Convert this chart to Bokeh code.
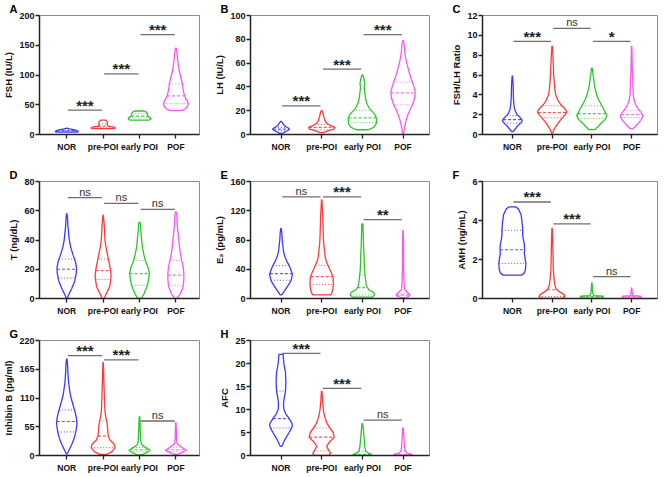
import numpy as np
from bokeh.plotting import figure
from bokeh.layouts import gridplot
from bokeh.models import Range1d, FixedTicker, Label
from bokeh.embed import file_html
from bokeh.resources import INLINE

groups = ["NOR", "pre-POI", "early POI", "POF"]
colors = ["#3a3aff", "#ff3a3a", "#2ec42e", "#ff55f0"]

# ---- violin outlines: (y levels, half-widths in category units) ----
fsh_profiles = [
    ([4, 5, 6.5, 8, 9.5, 10.5], [0.28, 0.32, 0.28, 0.18, 0.08, 0.02]),
    ([10, 11, 12.5, 14, 17, 20, 22, 24], [0.3, 0.34, 0.3, 0.14, 0.11, 0.12, 0.1, 0.07]),
    ([24, 26, 28, 30, 32, 35, 38, 39.5], [0.26, 0.31, 0.3, 0.24, 0.22, 0.22, 0.18, 0.13]),
    ([40, 43, 47, 52, 57, 62, 67, 75, 85, 95, 105, 115, 125, 135, 145],
     [0.15, 0.26, 0.32, 0.34, 0.31, 0.26, 0.23, 0.2, 0.18, 0.14, 0.1, 0.07, 0.05, 0.035, 0.015]),
]
fsh_quart = [(5.5, 6.5, 7.5), (11.5, 14, 18), (28, 31, 35), (52, 65, 85)]
fsh_sig = [(1, 2, 41, "***"), (2, 3, 102, "***"), (3, 4, 168, "***")]
fsh_ticks = [0, 50, 100, 150, 200]

lh_profiles = [
    ([1, 2.5, 4, 5, 6.5, 8, 9.5, 11], [0.04, 0.12, 0.2, 0.2, 0.12, 0.07, 0.04, 0.01]),
    ([1.5, 3, 4.5, 6, 7.5, 9, 11, 13, 15, 17, 18.5, 20],
     [0.04, 0.15, 0.3, 0.32, 0.22, 0.14, 0.09, 0.07, 0.05, 0.04, 0.03, 0.01]),
    ([4, 6, 9, 13, 16, 19, 22, 26, 30, 35, 40, 43, 46, 48, 50],
     [0.15, 0.28, 0.34, 0.35, 0.32, 0.25, 0.17, 0.11, 0.08, 0.06, 0.045, 0.06, 0.04, 0.03, 0.01]),
    ([0.5, 5, 10, 15, 20, 25, 30, 35, 40, 45, 50, 55, 60, 65, 70, 75, 79],
     [0.01, 0.03, 0.06, 0.1, 0.16, 0.23, 0.28, 0.3, 0.27, 0.22, 0.17, 0.13, 0.09, 0.06, 0.04, 0.03, 0.01]),
]
lh_quart = [(3, 4.5, 6), (4, 6, 8.5), (10, 14, 20), (25, 35, 44)]
lh_sig = [(1, 2, 24, "***"), (2, 3, 55, "***"), (3, 4, 84, "***")]
lh_ticks = [0, 20, 40, 60, 80, 100]

ratio_profiles = [
    ([0.3, 0.8, 1.2, 1.4, 1.7, 2.0, 2.5, 3, 3.5, 4, 5, 5.9],
     [0.02, 0.12, 0.22, 0.25, 0.2, 0.12, 0.06, 0.04, 0.03, 0.025, 0.02, 0.005]),
    ([0.1, 0.5, 1, 1.5, 2, 2.3, 2.7, 3, 3.5, 4, 4.5, 5, 6, 7, 8, 8.9],
     [0.01, 0.05, 0.12, 0.22, 0.33, 0.37, 0.3, 0.22, 0.14, 0.09, 0.07, 0.06, 0.04, 0.03, 0.02, 0.005]),
    ([0.5, 1, 1.5, 1.9, 2.3, 3, 3.5, 4, 4.5, 5, 5.5, 6, 6.7],
     [0.08, 0.2, 0.33, 0.38, 0.33, 0.24, 0.17, 0.12, 0.09, 0.06, 0.05, 0.03, 0.01]),
    ([0.6, 1, 1.5, 1.8, 2.2, 2.6, 3, 3.5, 4, 5, 5.5, 6, 7, 8, 8.9],
     [0.04, 0.14, 0.24, 0.29, 0.24, 0.16, 0.1, 0.06, 0.04, 0.03, 0.03, 0.02, 0.015, 0.01, 0.005]),
]
ratio_quart = [(1.15, 1.5, 1.9), (1.7, 2.2, 2.9), (1.6, 2.1, 2.9), (1.7, 2.0, 2.4)]
ratio_sig = [(1, 2, 9.4, "***"), (2, 3, 10.7, "ns"), (3, 4, 9.4, "*")]
ratio_ticks = [0, 2, 4, 6, 8, 10, 12]

t_profiles = [
    ([0, 3, 7, 12, 17, 21, 25, 30, 35, 40, 45, 50, 55, 58],
     [0.01, 0.06, 0.14, 0.22, 0.26, 0.27, 0.24, 0.17, 0.11, 0.07, 0.05, 0.03, 0.02, 0.005]),
    ([0, 3, 8, 13, 16, 20, 25, 30, 35, 40, 45, 50, 57],
     [0.03, 0.08, 0.18, 0.21, 0.22, 0.2, 0.16, 0.12, 0.08, 0.05, 0.04, 0.03, 0.005]),
    ([0, 3, 6, 9, 13, 17, 21, 26, 30, 35, 40, 45, 52],
     [0.05, 0.12, 0.17, 0.22, 0.25, 0.27, 0.24, 0.16, 0.12, 0.08, 0.06, 0.04, 0.02]),
    ([0, 3, 8, 13, 17, 22, 26, 30, 35, 40, 45, 50, 55, 59],
     [0.03, 0.12, 0.2, 0.22, 0.22, 0.2, 0.16, 0.13, 0.1, 0.08, 0.06, 0.04, 0.03, 0.02]),
]
t_quart = [(14, 20, 27), (13, 19, 27), (9, 17, 26), (9, 16, 26)]
t_sig = [(1, 2, 69, "ns"), (2, 3, 65, "ns"), (3, 4, 61, "ns")]
t_ticks = [0, 20, 40, 60, 80]

e2_profiles = [
    ([5, 10, 15, 20, 25, 33, 40, 45, 50, 55, 60, 65, 70, 75, 80, 90, 96],
     [0.02, 0.08, 0.14, 0.2, 0.25, 0.28, 0.24, 0.2, 0.15, 0.11, 0.08, 0.06, 0.05, 0.04, 0.03, 0.02, 0.005]),
    ([5, 8, 12, 20, 28, 35, 42, 50, 55, 60, 65, 75, 85, 95, 105, 115, 125, 135],
     [0.22, 0.25, 0.27, 0.29, 0.28, 0.24, 0.18, 0.12, 0.09, 0.08, 0.07, 0.05, 0.04, 0.035, 0.03, 0.025, 0.015, 0.005]),
    ([2, 5, 8, 12, 16, 20, 30, 40, 50, 60, 70, 80, 90, 102],
     [0.25, 0.3, 0.28, 0.16, 0.11, 0.09, 0.07, 0.05, 0.045, 0.04, 0.03, 0.025, 0.02, 0.015]),
    ([1, 3, 5, 8, 12, 20, 40, 60, 80, 93],
     [0.05, 0.14, 0.17, 0.12, 0.04, 0.025, 0.015, 0.012, 0.01, 0.005]),
]
e2_quart = [(25, 34, 45), (19, 30, 45), (5, 15, 32), (4, 5, 7)]
e2_sig = [(1, 2, 139, "ns"), (2, 3, 139, "***"), (3, 4, 108, "**")]
e2_ticks = [0, 40, 80, 120, 160]

amh_profiles = [
    ([1.2, 1.3, 1.5, 1.8, 2.1, 2.3, 2.5, 2.8, 3.1, 3.3, 3.6, 4.0, 4.3, 4.6, 4.7],
     [0.23, 0.3, 0.33, 0.34, 0.32, 0.3, 0.31, 0.3, 0.27, 0.26, 0.26, 0.24, 0.22, 0.15, 0.08]),
    ([0, 0.1, 0.2, 0.35, 0.5, 0.7, 1.0, 1.5, 2, 2.5, 3, 3.6],
     [0.25, 0.33, 0.3, 0.18, 0.1, 0.07, 0.05, 0.03, 0.025, 0.02, 0.015, 0.005]),
    ([0, 0.05, 0.12, 0.15, 0.3, 0.8], [0.2, 0.28, 0.28, 0.05, 0.02, 0.005]),
    ([0, 0.05, 0.12, 0.15, 0.3, 0.55], [0.2, 0.24, 0.22, 0.03, 0.015, 0.005]),
]
amh_quart = [(1.8, 2.5, 3.5), (0.1, 0.45, 1.05), (0.05, 0.1, 0.12), (0.05, 0.1, 0.12)]
amh_sig = [(1, 2, 4.95, "***"), (2, 3, 3.83, "***"), (3, 4, 1.12, "ns")]
amh_ticks = [0, 2, 4, 6]

inhb_profiles = [
    ([3, 10, 20, 30, 40, 50, 60, 70, 80, 90, 100, 110, 120, 130, 140, 150, 160, 170, 180, 185],
     [0.01, 0.06, 0.13, 0.19, 0.23, 0.26, 0.28, 0.27, 0.24, 0.2, 0.16, 0.12, 0.09, 0.07, 0.05, 0.04, 0.03, 0.025, 0.015, 0.005]),
    ([2, 8, 15, 22, 30, 38, 45, 55, 65, 75, 85, 100, 120, 140, 160, 178],
     [0.1, 0.25, 0.33, 0.3, 0.18, 0.14, 0.13, 0.12, 0.1, 0.07, 0.05, 0.04, 0.03, 0.02, 0.015, 0.005]),
    ([1, 5, 10, 15, 20, 25, 35, 50, 65, 75],
     [0.05, 0.18, 0.29, 0.18, 0.07, 0.04, 0.03, 0.02, 0.015, 0.005]),
    ([2, 5, 10, 14, 18, 22, 30, 45, 63],
     [0.04, 0.15, 0.29, 0.2, 0.12, 0.04, 0.02, 0.015, 0.005]),
]
inhb_quart = [(45, 65, 87), (15, 37, 66), (8, 11, 15), (8, 11, 16)]
inhb_sig = [(1, 2, 191, "***"), (2, 3, 183, "***"), (3, 4, 66, "ns")]
inhb_ticks = [0, 55, 110, 165, 220]

afc_profiles = [
    ([2, 3, 4, 5, 6, 6.5, 7, 8, 9, 10, 11, 12, 13, 14, 16, 18, 19, 20, 21, 22],
     [0.02, 0.07, 0.13, 0.2, 0.26, 0.28, 0.27, 0.2, 0.12, 0.07, 0.06, 0.07, 0.09, 0.11, 0.12, 0.11, 0.09, 0.07, 0.06, 0.05]),
    ([0, 0.5, 1, 2, 3, 4, 5, 6, 7, 8, 9, 10, 11, 12, 13, 14],
     [0.18, 0.22, 0.18, 0.12, 0.2, 0.31, 0.28, 0.2, 0.13, 0.09, 0.06, 0.04, 0.03, 0.02, 0.015, 0.005]),
    ([0, 0.2, 0.5, 1, 2, 3, 4, 5, 6, 7],
     [0.2, 0.23, 0.15, 0.08, 0.06, 0.05, 0.04, 0.03, 0.02, 0.005]),
    ([0, 0.2, 0.5, 1, 2, 3, 4, 5, 6],
     [0.2, 0.23, 0.1, 0.05, 0.035, 0.03, 0.02, 0.015, 0.005]),
]
afc_quart = [(6, 8, 14), (1, 4, 6), (0.1, 0.2, 1), (0.1, 0.2, 1)]
afc_sig = [(1, 2, 22.2, "***"), (2, 3, 14.6, "***"), (3, 4, 7.7, "ns")]
afc_ticks = [0, 5, 10, 15, 20, 25]

FONT = "Liberation Sans"


def make_panel(letter, ylabel, yticks, profiles, quarts, sig, width, height, bl, br, bt, bb):
    x0, x1 = 0.25, 4.65
    ymax = yticks[-1]
    p = figure(width=width, height=height, output_backend="svg", toolbar_location=None,
               x_range=Range1d(x0, x1), y_range=Range1d(0, ymax),
               min_border_left=bl, min_border_right=br, min_border_top=bt, min_border_bottom=bb)
    p.grid.visible = False
    p.outline_line_color = "#8c8c8c"
    p.outline_line_width = 1
    p.title.text = letter
    p.title.align = "left"
    p.title.offset = -30
    p.title.standoff = 1
    p.title.text_font = FONT
    p.title.text_font_size = "11px"
    p.title.text_font_style = "bold"
    p.title.text_color = "#000000"
    for ax in (p.xaxis[0], p.yaxis[0]):
        ax.axis_line_color = "#222222"
        ax.axis_line_width = 1.5
        ax.major_tick_line_color = "#222222"
        ax.major_tick_line_width = 1.3
        ax.major_tick_out = 4
        ax.major_tick_in = 0
        ax.minor_tick_line_color = None
        ax.major_label_text_font = FONT
        ax.major_label_text_font_style = "bold"
        ax.major_label_text_font_size = "9px"
        ax.major_label_text_color = "#111111"
        ax.major_label_standoff = 1
    p.xaxis.major_label_standoff = 3
    p.xaxis.major_label_text_font_size = "8.5px"
    p.xaxis.ticker = FixedTicker(ticks=[1, 2, 3, 4])
    p.xaxis.major_label_overrides = {i + 1: g for i, g in enumerate(groups)}
    p.yaxis.ticker = FixedTicker(ticks=yticks)
    p.yaxis.axis_label = ylabel
    p.yaxis.axis_label_text_font = FONT
    p.yaxis.axis_label_text_font_style = "bold"
    p.yaxis.axis_label_text_font_size = "9.5px"
    p.yaxis.axis_label_text_color = "#111111"
    p.yaxis.axis_label_standoff = 2

    for k, (ys, ws) in enumerate(profiles):
        c = k + 1
        ys = np.array(ys, dtype=float)
        ws = np.array(ws, dtype=float)
        xs = np.concatenate([c - ws, (c + ws)[::-1]])
        yy = np.concatenate([ys, ys[::-1]])
        p.patch(xs, yy, fill_alpha=0, line_color=colors[k], line_width=1.3)
        q1, med, q3 = quarts[k]
        for qv, dash, lw in ((q1, "1 2", 1.0), (med, "3 2", 1.2), (q3, "1 2", 1.0)):
            hw = float(np.interp(qv, ys, ws))
            p.segment(x0=[c - hw], y0=[qv], x1=[c + hw], y1=[qv],
                      line_color=colors[k], line_dash=dash, line_width=lw, line_alpha=0.85)

    for (i, j, yv, txt) in sig:
        p.segment(x0=[i + 0.03], y0=[yv], x1=[j - 0.03], y1=[yv],
                  line_color="#6e6e6e", line_width=1.3)
        if txt == "ns":
            p.add_layout(Label(x=(i + j) / 2, y=yv, text=txt, text_align="center",
                               text_baseline="alphabetic", y_offset=6, text_font=FONT,
                               text_font_size="11px", text_color="#333333"))
        else:
            p.add_layout(Label(x=(i + j) / 2, y=yv, text=txt, text_align="center",
                               text_baseline="alphabetic", y_offset=5, text_font=FONT,
                               text_font_size="15px", text_font_style="bold",
                               text_color="#222222"))
    return p


W = [211, 237, 211]
BL = [34, 34, 30]
BR = [12, 19, 2]
H = [158, 162, 155]
BT = [14, 23, 20]
BB = [24, 22, 17]

pA = make_panel("A", "FSH (IU/L)", fsh_ticks, fsh_profiles, fsh_quart, fsh_sig, W[0], H[0], BL[0], BR[0], BT[0], BB[0])
pB = make_panel("B", "LH (IU/L)", lh_ticks, lh_profiles, lh_quart, lh_sig, W[1], H[0], BL[1], BR[1], BT[0], BB[0])
pC = make_panel("C", "FSH/LH Ratio", ratio_ticks, ratio_profiles, ratio_quart, ratio_sig, W[2], H[0], BL[2], BR[2], BT[0], BB[0])
pD = make_panel("D", "T (ng/dL)", t_ticks, t_profiles, t_quart, t_sig, W[0], H[1], BL[0], BR[0], BT[1], BB[1])
pE = make_panel("E", "E\u2082 (pg/mL)", e2_ticks, e2_profiles, e2_quart, e2_sig, W[1], H[1], BL[1], BR[1], BT[1], BB[1])
pF = make_panel("F", "AMH (ng/mL)", amh_ticks, amh_profiles, amh_quart, amh_sig, W[2], H[1], BL[2], BR[2], BT[1], BB[1])
pG = make_panel("G", "Inhibin B (pg/ml)", inhb_ticks, inhb_profiles, inhb_quart, inhb_sig, W[0], H[2], BL[0], BR[0], BT[2], BB[2])
pH = make_panel("H", "AFC", afc_ticks, afc_profiles, afc_quart, afc_sig, W[1], H[2], BL[1], BR[1], BT[2], BB[2])

grid = gridplot([[pA, pB, pC], [pD, pE, pF], [pG, pH, None]], toolbar_location=None)

open("out.html", "w").write(file_html(grid, INLINE))
